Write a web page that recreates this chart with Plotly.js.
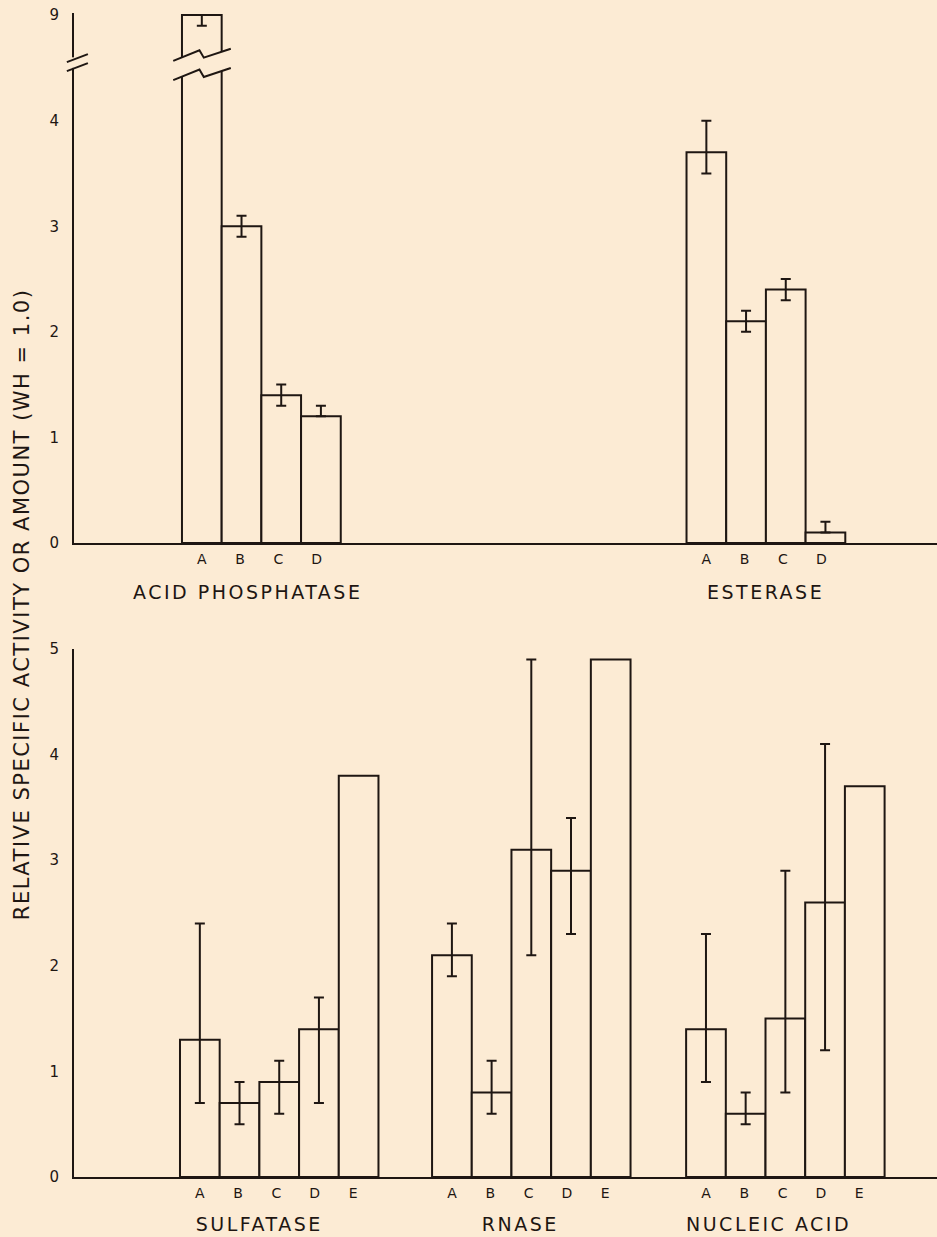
<!DOCTYPE html>
<html>
<head>
<meta charset="utf-8">
<script src="https://cdn.plot.ly/plotly-3.0.1.min.js"></script>
<style>
  html, body { margin: 0; padding: 0; background: #fcebd4; }
  #chart { width: 937px; height: 1237px; }
</style>
</head>
<body>
<div id="chart"></div>
<script>
// ---------------- DATA ----------------
const yTitle = 'RELATIVE SPECIFIC ACTIVITY OR AMOUNT (WH = 1.0)';

const topGroups = ['ACID PHOSPHATASE', 'ESTERASE'];
const topLetters = ['A', 'B', 'C', 'D'];
const acidPhosphatase = [9, 3.0, 1.4, 1.2];
const acidPhosphataseErrPlus = [0, 0.1, 0.1, 0.1];
const acidPhosphataseErrMinus = [0.1, 0.1, 0.1, 0];
const esterase = [3.7, 2.1, 2.4, 0.1];
const esteraseErrPlus = [0.3, 0.1, 0.1, 0.1];
const esteraseErrMinus = [0.2, 0.1, 0.1, 0];

const bottomGroups = ['SULFATASE', 'RNASE', 'NUCLEIC ACID'];
const bottomLetters = ['A', 'B', 'C', 'D', 'E'];
const sulfatase = [1.3, 0.7, 0.9, 1.4, 3.8];
const sulfataseErrPlus = [1.1, 0.2, 0.2, 0.3, 0];
const sulfataseErrMinus = [0.6, 0.2, 0.3, 0.7, 0];
const rnase = [2.1, 0.8, 3.1, 2.9, 4.9];
const rnaseErrPlus = [0.3, 0.3, 1.8, 0.5, 0];
const rnaseErrMinus = [0.2, 0.2, 1.0, 0.6, 0];
const nucleicAcid = [1.4, 0.6, 1.5, 2.6, 3.7];
const nucleicAcidErrPlus = [0.9, 0.2, 1.4, 1.5, 0];
const nucleicAcidErrMinus = [0.5, 0.1, 0.7, 1.4, 0];

const topTickValues = [0, 1, 2, 3, 4, 9];
const bottomTickValues = [0, 1, 2, 3, 4, 5];

// ---------------- LAYOUT CONSTANTS ----------------
const BG = '#fcebd4';
const INK = '#1e1612';
const FONT = 'DejaVu Sans, Liberation Sans, sans-serif';
const X_MAX = 21.74;
const TOP_RANGE = 5.02;
const BOTTOM_RANGE = 5;
const TOP_DOMAIN = [0.5447, 1];
const BOTTOM_DOMAIN = [0, 0.4536];
const BREAK_SHIFT = 4;      // top panel: values above the axis break are drawn shifted down by this
const BREAK_AT = 4.5;
const topStarts = [3.22, 15.93];
const bottomStarts = [3.17, 9.52, 15.92];
const topLabelX = [4.38, 17.43];
const bottomLabelX = [4.66, 11.23, 17.5];
const LETTER_STEP = 0.965;

function topDisplay(v) { return v > BREAK_AT ? v - BREAK_SHIFT : v; }
function identity(v) { return v; }

function buildPanel(groups, starts, mapY) {
  const x = [], y = [], ep = [], em = [], tv = [], tt = [];
  groups.forEach((g, gi) => {
    g.vals.forEach((v, i) => {
      x.push(starts[gi] + i);
      y.push(mapY(v));
      const none = g.plus[i] === 0 && g.minus[i] === 0;
      ep.push(none ? NaN : g.plus[i]);
      em.push(none ? NaN : g.minus[i]);
      tv.push(starts[gi] + i * LETTER_STEP);
      tt.push(g.letters[i]);
    });
  });
  return {x, y, ep, em, tv, tt};
}

const topPanel = buildPanel([
  {vals: acidPhosphatase, plus: acidPhosphataseErrPlus, minus: acidPhosphataseErrMinus, letters: topLetters},
  {vals: esterase, plus: esteraseErrPlus, minus: esteraseErrMinus, letters: topLetters}
], topStarts, topDisplay);
const bottomPanel = buildPanel([
  {vals: sulfatase, plus: sulfataseErrPlus, minus: sulfataseErrMinus, letters: bottomLetters},
  {vals: rnase, plus: rnaseErrPlus, minus: rnaseErrMinus, letters: bottomLetters},
  {vals: nucleicAcid, plus: nucleicAcidErrPlus, minus: nucleicAcidErrMinus, letters: bottomLetters}
], bottomStarts, identity);

function barTrace(p, xa, ya) {
  return {
    type: 'bar', x: p.x, y: p.y, xaxis: xa, yaxis: ya, width: 1,
    marker: {color: BG, line: {color: INK, width: 2}},
    error_y: {type: 'data', symmetric: false, array: p.ep, arrayminus: p.em,
              color: INK, thickness: 2, width: 5},
    hoverinfo: 'skip', showlegend: false
  };
}

// paper coordinate helpers
const px = v => v / X_MAX;
const pyTop = v => TOP_DOMAIN[0] + (v / TOP_RANGE) * (TOP_DOMAIN[1] - TOP_DOMAIN[0]);

// break decorations
const shapes = [];
// axis break
shapes.push({type: 'rect', xref: 'paper', yref: 'paper', x0: px(-0.08), x1: px(0.08),
  y0: pyTop(4.5), y1: pyTop(4.6), fillcolor: BG, line: {width: 0}});
[[4.47, 4.545], [4.555, 4.63]].forEach(([a, b]) => {
  shapes.push({type: 'line', xref: 'paper', yref: 'paper', x0: px(-0.18), x1: px(0.35),
    y0: pyTop(a), y1: pyTop(b), line: {color: INK, width: 2}});
});
// bar break (zigzag) on the tall bar
const zx = [-0.72, -0.06, 0.05, 0.73];
const zdy = [0, 0.1, 0.03, 0.115];
const bx = topStarts[0];
const upper = zx.map((dx, i) => [px(bx + dx), pyTop(4.567 + zdy[i])]);
const lower = zx.map((dx, i) => [px(bx + dx), pyTop(4.384 + zdy[i])]);
const poly = upper.concat(lower.slice().reverse());
shapes.push({type: 'path', xref: 'paper', yref: 'paper',
  path: 'M' + poly.map(p => p[0] + ',' + p[1]).join(' L') + ' Z',
  fillcolor: BG, line: {width: 0}});
[upper, lower].forEach(l => {
  shapes.push({type: 'path', xref: 'paper', yref: 'paper',
    path: 'M' + l.map(p => p[0] + ',' + p[1]).join(' L'),
    line: {color: INK, width: 2}});
});

const annotations = [];
topGroups.forEach((g, i) => annotations.push({text: g, xref: 'x', yref: 'paper', x: topLabelX[i],
  y: 0.5026, showarrow: false, font: {family: FONT, size: 19, color: INK}, xanchor: 'center', yanchor: 'middle'}));
bottomGroups.forEach((g, i) => annotations.push({text: g, xref: 'x2', yref: 'paper', x: bottomLabelX[i],
  y: -0.0404, showarrow: false, font: {family: FONT, size: 19, color: INK}, xanchor: 'center', yanchor: 'middle'}));
annotations.push({text: yTitle, xref: 'paper', yref: 'paper', x: -0.0603, y: 0.4923, textangle: -90,
  showarrow: false, font: {family: FONT, size: 21, color: INK}, xanchor: 'center', yanchor: 'middle'});

const xCommon = {range: [0, X_MAX], showgrid: false, zeroline: false, showline: true,
  linecolor: INK, linewidth: 2, tickmode: 'array', ticks: '', ticklabelstandoff: 2,
  tickfont: {family: FONT, size: 14, color: INK}, fixedrange: true};
const yCommon = {showgrid: false, zeroline: false, showline: true, linecolor: INK, linewidth: 2,
  tickmode: 'array', ticks: '', ticklabelstandoff: 10,
  tickfont: {family: FONT, size: 15, color: INK}, fixedrange: true};

const layout = {
  width: 937, height: 1237,
  margin: {l: 74, r: 0, t: 13, b: 60},
  paper_bgcolor: BG, plot_bgcolor: BG,
  font: {family: FONT, color: INK},
  xaxis: Object.assign({}, xCommon, {anchor: 'y', domain: [0, 1], tickvals: topPanel.tv, ticktext: topPanel.tt}),
  yaxis: Object.assign({}, yCommon, {anchor: 'x', domain: TOP_DOMAIN, range: [0, TOP_RANGE],
    tickvals: topTickValues.map(topDisplay), ticktext: topTickValues.map(String)}),
  xaxis2: Object.assign({}, xCommon, {anchor: 'y2', domain: [0, 1], tickvals: bottomPanel.tv, ticktext: bottomPanel.tt}),
  yaxis2: Object.assign({}, yCommon, {anchor: 'x2', domain: BOTTOM_DOMAIN, range: [0, BOTTOM_RANGE],
    tickvals: bottomTickValues, ticktext: bottomTickValues.map(String)}),
  shapes: shapes,
  annotations: annotations,
  bargap: 0
};

Plotly.newPlot('chart', [barTrace(topPanel, 'x', 'y'), barTrace(bottomPanel, 'x2', 'y2')], layout,
  {staticPlot: true}).then(gd => {
    gd.querySelectorAll('.annotation-text').forEach(t => {
      const s = t.textContent;
      t.style.letterSpacing = (s === yTitle) ? '1.5px' : '2.5px';
    });
  });
</script>
</body>
</html>
